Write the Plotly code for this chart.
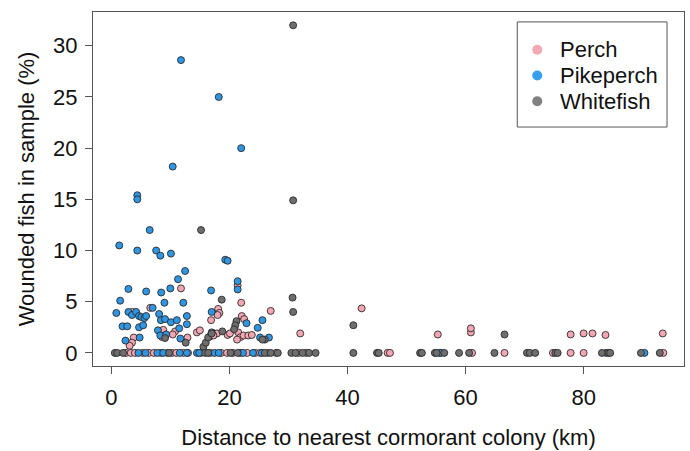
import plotly.graph_objects as go

# ---- data (distance km, wounded %) ----
perch_x = [11.8, 3.6, 6.6, 18.0, 16.9, 10.8, 10.4, 8.8, 8.6, 3.8, 3.5, 3.1, 12.9, 14.5, 15.0,
           21.4, 22.0, 18.1, 18.3, 18.0, 27.0, 22.1, 22.5, 32.0, 17.4, 17.9, 19.7, 20.1,
           21.5, 21.9, 22.4, 23.2, 23.8, 21.3, 16.7, 17.3,
           42.4, 55.3, 60.9, 60.9, 77.8, 80.0, 81.5, 83.7, 93.4]
perch_y = [6.3, 4.0, 4.4, 3.8, 3.2, 2.1, 1.8, 2.25, 1.55, 1.5, 1.0, 0.7, 1.5, 2.0, 2.2,
           6.6, 4.9, 4.3, 3.9, 3.7, 4.1, 3.6, 3.3, 1.9, 1.9, 1.9, 1.75, 1.9,
           2.0, 1.55, 1.7, 1.7, 1.75, 1.3, 1.6, 1.7,
           4.35, 1.8, 2.0, 2.4, 1.8, 1.9, 1.9, 1.75, 1.9]
perch_zero_x = [2.5, 3.3, 4.0, 5.3, 6.4, 7.2, 8.4, 9.5, 10.3, 11.0, 12.2, 13.0, 15.2, 16.8,
                18.6, 19.6, 20.6, 21.8, 23.0, 24.4, 25.2, 26.5, 27.9, 31.7, 33.0, 46.8,
                47.2, 55.8, 61.1, 66.6, 74.8, 77.8, 80.0, 93.5]

pike_x = [11.8, 18.2, 22.0, 10.4, 4.4, 4.4, 6.5, 1.35, 4.4, 7.6, 8.3, 10.1, 19.3, 19.7,
          12.5, 11.3, 2.9, 5.9, 8.45, 10.0, 16.9, 21.4, 21.4, 1.5, 9.0, 12.2, 0.85, 2.9,
          3.5, 4.2, 4.7, 7.0, 5.1, 5.6, 5.9, 8.1, 8.4, 9.1, 10.1, 11.1, 12.8, 12.8, 17.0,
          1.9, 2.7, 4.7, 5.4, 11.5, 7.9, 8.3, 9.3, 2.4, 4.8, 11.7, 17.0, 22.9, 25.6, 24.8,
          25.2, 26.7]
pike_y = [28.6, 25.0, 20.0, 18.2, 15.4, 15.0, 12.0, 10.5, 10.0, 10.0, 9.5, 9.7, 9.1, 9.0,
          8.0, 7.2, 6.25, 6.0, 5.9, 6.3, 6.1, 7.0, 6.2, 5.1, 4.9, 4.9, 3.9, 4.0,
          3.7, 4.0, 3.6, 4.4, 3.5, 3.4, 3.6, 3.8, 3.2, 3.3, 3.0, 3.2, 3.6, 2.8, 4.0,
          2.6, 2.6, 2.5, 2.7, 2.4, 2.2, 1.7, 1.8, 1.2, 1.5, 1.4, 2.0, 2.9, 3.2, 2.45,
          1.5, 1.5]
pike_zero_x = [4.6, 5.8, 7.8, 8.8, 11.6, 12.8, 14.5, 14.9, 17.5, 18.2, 22.3, 24.0, 25.5,
               55.6, 83.8, 90.3]

white_x = [30.8, 30.8, 15.2, 18.7, 30.7, 30.8, 21.2, 21.0, 20.8, 18.8, 15.6, 16.0, 16.4,
           17.0, 9.1, 12.6, 26.0, 25.6, 41.0, 66.6]
white_y = [32.0, 14.9, 12.0, 5.2, 5.4, 4.0, 3.1, 2.7, 2.3, 2.1, 0.6, 1.0, 1.5,
           1.9, 1.45, 1.0, 1.3, 1.3, 2.7, 1.8]
white_zero_x = [0.6, 1.0, 2.0, 9.8, 15.9, 16.4, 20.2, 21.4, 26.0, 27.0, 28.2, 30.5, 31.2,
                32.4, 33.5, 34.6, 41.0, 45.0, 45.3, 52.3, 52.6, 54.8, 55.1, 56.4, 58.9,
                60.6, 64.9, 70.4, 70.9, 71.8, 75.2, 75.6, 83.1, 84.2, 84.5, 89.7, 92.9]

species = ["Perch", "Pikeperch", "Whitefish"]
colors = ["#F4A7B3", "#2F96E4", "#6E6E6E"]
legend_colors = ["#F2A9B3", "#36A0EE", "#808080"]

series = [
    (perch_x + perch_zero_x, perch_y + [0] * len(perch_zero_x)),
    (pike_x + pike_zero_x, pike_y + [0] * len(pike_zero_x)),
    (white_x + white_zero_x, white_y + [0] * len(white_zero_x)),
]

fig = go.Figure()
for name, col, (xs, ys) in zip(species, colors, series):
    fig.add_trace(go.Scatter(
        x=xs, y=ys, mode="markers", showlegend=False, name=name,
        marker=dict(size=7, color=col, line=dict(color="#2a2a2a", width=0.9)),
    ))

# ---- manual legend on an overlay axis measured in plot-area pixels ----
L, R, T, B = 93, 685, 12, 369
leg_box = (518, 22, 668, 128)
leg_mx, leg_tx = 538, 559
leg_ys = [50, 76, 102]
fig.add_trace(go.Scatter(
    x=[leg_mx] * 3, y=leg_ys, mode="markers", showlegend=False, hoverinfo="skip",
    xaxis="x2", yaxis="y2",
    marker=dict(size=10, color=legend_colors, line=dict(width=0)),
))

font = "Liberation Sans, Arial, sans-serif"
fig.add_shape(type="rect", xref="x2", yref="y2",
              x0=leg_box[0], y0=leg_box[1], x1=leg_box[2], y1=leg_box[3],
              line=dict(color="#555555", width=1), fillcolor="rgba(0,0,0,0)")
for name, yy in zip(species, leg_ys):
    fig.add_annotation(x=leg_tx, y=yy, xref="x2", yref="y2", text=name,
                       showarrow=False, xanchor="left", yanchor="middle",
                       font=dict(family=font, size=22, color="#111111"))

axis_common = dict(
    showline=True, mirror=True, linecolor="#555555", linewidth=1,
    ticks="outside", ticklen=7, tickcolor="#555555", tickwidth=1,
    showgrid=False, zeroline=False,
    tickfont=dict(family=font, size=22, color="#111111"),
)
fig.update_layout(
    width=690, height=451,
    margin=dict(l=L, r=690 - R, t=T, b=451 - B),
    paper_bgcolor="white", plot_bgcolor="white",
    font=dict(family=font, color="#111111"),
    showlegend=False,
    xaxis=dict(range=[-3.1, 97.0], tickvals=[0, 20, 40, 60, 80],
               title=dict(text="Distance to nearest cormorant colony (km)",
                          font=dict(family=font, size=22), standoff=20),
               ticklabelstandoff=5, **axis_common),
    yaxis=dict(range=[-1.28, 33.3], tickvals=[0, 5, 10, 15, 20, 25, 30],
               title=dict(text="Wounded fish in sample (%)",
                          font=dict(family=font, size=22), standoff=12),
               ticklabelstandoff=3, **axis_common),
    xaxis2=dict(overlaying="x", range=[L, R], visible=False, domain=[0, 1]),
    yaxis2=dict(overlaying="y", range=[B, T], visible=False, domain=[0, 1]),
)

fig.write_html("out.html")
